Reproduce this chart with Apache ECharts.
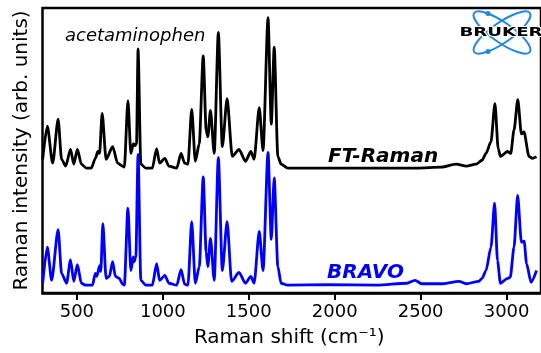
<!DOCTYPE html>
<html>
<head>
<meta charset="utf-8">
<script src="https://cdn.jsdelivr.net/npm/echarts@6/dist/echarts.min.js"></script>
<style>html,body{margin:0;padding:0;background:#fff}#c{width:541px;height:353px}</style>
</head>
<body>
<div id="c"></div>
<script>
// Raman shift ticks (cm^-1)
var xTicks = [500, 1000, 1500, 2000, 2500, 3000];

// FT-Raman spectrum (offset upward)
var ftShift = [301,328,359,391,411,435,463,482,503,526,555,584,608,622,632,647,670,708,737,766,776,797,814,829,839,847,856,872,901,939,964,981,1012,1035,1081,1106,1127,1146,1168,1189,1212,1235,1252,1262,1277,1299,1323,1346,1374,1404,1443,1481,1512,1531,1561,1583,1612,1631,1648,1669,1688,1727,1958,2246,2477,2621,2707,2765,2822,2857,2880,2909,2932,2951,2964,3005,3024,3043,3065,3086,3101,3130,3149,3174];
var ftIntensity = [137,171,133,178,137,130,147,132,147,132,128,128,138,145,143,184,137,150,133,130,129,197,143,153,151,153,250,132,128,128,148,133,138,130,128,143,133,132,188,135,153,243,167,160,187,143,267,150,199,140,147,135,145,137,190,146,282,173,252,140,132,128,128,128,128,129,132,130,132,136,143,155,194,148,140,145,143,167,198,163,165,140,138,139.5];

// BRAVO spectrum
var bravoShift = [301,328,353,391,411,440,463,482,503,526,551,591,607,616,632,639,651,670,689,708,724,747,766,776,797,814,828,833,843,856,872,901,939,964,981,1012,1035,1081,1106,1127,1146,1168,1189,1212,1235,1252,1262,1277,1299,1323,1346,1374,1400,1443,1481,1512,1531,1561,1583,1612,1631,1648,1669,1688,1727,1958,2246,2419,2467,2505,2621,2723,2765,2838,2857,2880,2909,2930,2947,2964,3005,3021,3043,3064,3086,3102,3116,3142,3174];
var bravoIntensity = [10,47,13,65,20,10,34,12,29,10,8,8,20,17,28,22,71,15,17,32,17,15,9,8,87,23,37,32,37,142,13,8,8,30,13,18,10,8,24,9,8,73,10,27,119,42,27,56,13,139,23,73,12,21,10,17,10,63,23,144,55,118,27,10,8,8.5,8,10,13,9.5,9.5,12,9.5,12,15,23,47,92,33,10,15,16,47,100,52,53,30,11,23];

function zip(a, b) { var r = []; for (var i = 0; i < a.length; i++) r.push([a[i], b[i]]); return r; }

var chart = echarts.init(document.getElementById('c'), null, {renderer: 'canvas'});
var F = 'DejaVu Sans';
chart.setOption({
  animation: false,
  backgroundColor: '#fff',
  grid: {left: 42.5, right: -4, top: 8, bottom: 53, show: true, borderColor: '#000', borderWidth: 2.5, backgroundColor: 'transparent'},
  xAxis: {
    type: 'value', min: 300, max: 3200,
    name: 'Raman shift (cm\u207B\u00B9)', nameLocation: 'middle', nameGap: 35,
    nameTextStyle: {fontFamily: F, fontSize: 20, color: '#000', padding: [0, 5, 0, 0]},
    axisLine: {show: true, lineStyle: {color: '#000', width: 2.5}},
    axisTick: {show: true, length: 7, lineStyle: {color: '#000', width: 2}, customValues: xTicks},
    axisLabel: {fontFamily: F, fontSize: 18, color: '#000', margin: 10, customValues: xTicks, formatter: function (v) { return String(v); }},
    splitLine: {show: false}
  },
  yAxis: {
    type: 'value', min: 0, max: 292,
    name: 'Raman intensity (arb. units)', nameLocation: 'middle', nameGap: 11, nameRotate: 90,
    nameTextStyle: {fontFamily: F, fontSize: 20, color: '#000'},
    axisLine: {show: false}, axisTick: {show: false}, axisLabel: {show: false}, splitLine: {show: false}
  },
  series: [
    {type: 'line', data: zip(ftShift, ftIntensity), smooth: 0.25, smoothMonotone: 'x', showSymbol: false, symbol: 'none', lineStyle: {color: '#000', width: 2.8, join: 'round'}, itemStyle: {color: '#000'}},
    {type: 'line', data: zip(bravoShift, bravoIntensity), smooth: 0.25, smoothMonotone: 'x', showSymbol: false, symbol: 'none', lineStyle: {color: '#0000ff', width: 2.8, join: 'round'}, itemStyle: {color: '#0000ff'}}
  ],
  graphic: [
    {type: 'text', left: 65, top: 27, style: {text: 'acetaminophen', font: 'italic 18px "DejaVu Sans"', fill: '#000'}},
    {type: 'text', left: 328, top: 147, style: {text: 'FT-Raman', font: 'italic bold 20px "DejaVu Sans"', fill: '#000'}},
    {type: 'text', left: 327, top: 263, style: {text: 'BRAVO', font: 'italic bold 20px "DejaVu Sans"', fill: '#0000ff'}},
    {type: 'ellipse', x: 502, y: 32.5, rotation: 0.61, shape: {cx: 0, cy: 0, rx: 34, ry: 10}, style: {fill: 'none', stroke: '#1E88E5', lineWidth: 2}},
    {type: 'ellipse', x: 502, y: 32.5, rotation: -0.61, shape: {cx: 0, cy: 0, rx: 34, ry: 10}, style: {fill: 'none', stroke: '#1E88E5', lineWidth: 2}},
    {type: 'circle', shape: {cx: 488, cy: 13.5, r: 2.5}, style: {fill: '#1E88E5'}},
    {type: 'circle', shape: {cx: 488, cy: 51.5, r: 2.5}, style: {fill: '#1E88E5'}},
    {type: 'text', x: 501, y: 33, scaleX: 1.4, style: {text: 'BRUKER', font: 'bold 13px "DejaVu Sans"', fill: '#000', align: 'center', verticalAlign: 'middle', stroke: '#fff', lineWidth: 2}}
  ]
});
</script>
</body>
</html>
